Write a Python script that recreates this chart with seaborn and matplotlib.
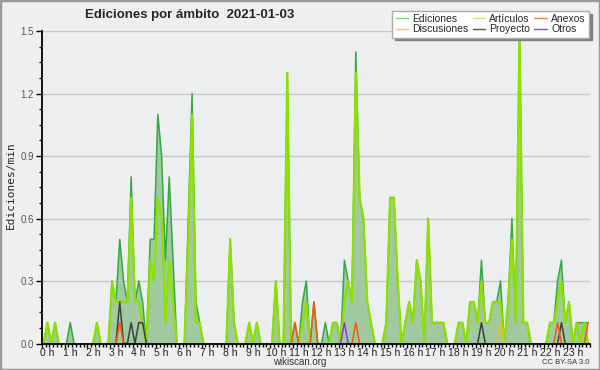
import numpy as np
import pandas as pd
import seaborn as sns
import matplotlib
matplotlib.use('Agg')
from matplotlib import pyplot as plt
from matplotlib.lines import Line2D
from matplotlib.patches import Rectangle
from matplotlib.transforms import ScaledTranslation

# edits per minute, one value per 10-minute slot (144 slots)
ediciones = [
    0, 0.1, 0, 0.1, 0, 0, 0, 0.1, 0, 0, 0, 0,
    0, 0, 0.1, 0, 0, 0, 0.3, 0.2, 0.5, 0.3, 0.2, 0.8,
    0.2, 0.3, 0.2, 0, 0.5, 0.5, 1.1, 0.9, 0.4, 0.8, 0.4, 0,
    0, 0, 0.6, 1.2, 0.2, 0.1, 0, 0, 0, 0, 0, 0,
    0, 0.5, 0.1, 0, 0, 0, 0.1, 0, 0.1, 0, 0, 0,
    0, 0.3, 0, 0, 1.3, 0, 0.1, 0, 0.2, 0.3, 0, 0.2,
    0, 0, 0.1, 0, 0.1, 0.1, 0, 0.4, 0.3, 0.2, 1.4, 0.7,
    0.6, 0.2, 0.1, 0, 0, 0, 0.1, 0.7, 0.7, 0.3, 0, 0.1,
    0.2, 0.1, 0.4, 0.3, 0, 0.6, 0.1, 0.1, 0.1, 0.1, 0, 0,
    0, 0.1, 0.1, 0, 0.2, 0.2, 0.1, 0.4, 0.1, 0.1, 0.2, 0.2,
    0.3, 0, 0.2, 0.6, 0.1, 1.5, 0.1, 0.1, 0, 0, 0, 0,
    0, 0.1, 0.1, 0.3, 0.4, 0.1, 0.2, 0, 0.1, 0.1, 0.1, 0.1,
]
articulos = [
    0, 0.1, 0, 0.1, 0, 0, 0, 0, 0, 0, 0, 0,
    0, 0, 0.1, 0, 0, 0, 0.3, 0.2, 0.2, 0.2, 0.2, 0.7,
    0.2, 0.2, 0.1, 0, 0.4, 0.3, 0.7, 0.6, 0.1, 0.4, 0.2, 0,
    0, 0, 0.5, 1.1, 0.1, 0.1, 0, 0, 0, 0, 0, 0,
    0, 0.5, 0.1, 0, 0, 0, 0.1, 0, 0.1, 0, 0, 0,
    0, 0.3, 0, 0, 1.3, 0, 0, 0, 0.1, 0.2, 0, 0,
    0, 0, 0, 0, 0.1, 0.1, 0, 0.2, 0.3, 0.2, 1.3, 0.7,
    0.6, 0.2, 0.1, 0, 0, 0, 0.1, 0.7, 0.7, 0.3, 0, 0.1,
    0.2, 0.1, 0.4, 0.3, 0, 0.6, 0.1, 0.1, 0.1, 0.1, 0, 0,
    0, 0.1, 0.1, 0, 0.2, 0.2, 0.1, 0.3, 0.1, 0.1, 0.2, 0.2,
    0.2, 0, 0.2, 0.5, 0.1, 1.5, 0.1, 0.1, 0, 0, 0, 0,
    0, 0.1, 0.1, 0.2, 0.3, 0.1, 0.2, 0, 0.1, 0, 0.1, 0,
]
# sparse series: slot -> edits/min
anexos = {20: 0.1, 66: 0.1, 71: 0.2, 82: 0.1, 135: 0.1, 143: 0.1}
discusiones = {120: 0.1}
proyecto = {20: 0.2, 23: 0.1, 25: 0.1, 26: 0.1, 115: 0.1, 136: 0.1}
otros = {79: 0.1}

hour_labels = ['{} h'.format(h) for h in range(24)]
y_ticks = [0.0, 0.3, 0.6, 0.9, 1.2, 1.5]


def dense(sparse, n):
    out = np.zeros(n)
    for k, v in sparse.items():
        out[k] = v
    return out


def hide_flat_zeros(values):
    # drop points that sit on the baseline between two other zeros
    v = np.asarray(values, dtype=float)
    padded = np.concatenate([[0], v, [0]])
    flat = (v == 0) & (padded[:-2] == 0) & (padded[2:] == 0)
    v = v.copy()
    v[flat] = np.nan
    return v


def segments(df, col):
    # split a series at its gaps so seaborn does not join across them
    v = hide_flat_zeros(df[col])
    seg = np.cumsum(np.isnan(v))
    part = pd.DataFrame({'hora': df['hora'], 'valor': v, 'seg': seg})
    return part.dropna()


n = len(ediciones)
df = pd.DataFrame({
    'hora': (np.arange(n) + 0.5) / 6,
    'Ediciones': ediciones,
    'Artículos': articulos,
    'Anexos': dense(anexos, n),
    'Discusiones': dense(discusiones, n),
    'Proyecto': dense(proyecto, n),
    'Otros': dense(otros, n),
})

sns.set_style('white')
plt.rcParams['font.family'] = ['Liberation Sans Narrow', 'Liberation Sans', 'DejaVu Sans']

fig = plt.figure(figsize=(6, 3.7), dpi=100, facecolor='#efeff0')
ax = fig.add_axes([0.0695, 0.0716, 0.9138, 0.8446])
ax.set_facecolor('#edeef0')

ax.fill_between(df['hora'], hide_flat_zeros(df['Ediciones']), color='#a0c9a0', lw=0, zorder=1.5)
styles = [
    ('Ediciones', '#35a843', 1.1),
    ('Artículos', '#8ee000', 1.6),
    ('Discusiones', '#e8c020', 1.1),
    ('Proyecto', '#404040', 1.1),
    ('Anexos', '#ee5a14', 1.1),
    ('Otros', '#9a30e8', 1.1),
]
for col, color, lw in styles:
    sns.lineplot(data=segments(df, col), x='hora', y='valor', units='seg', estimator=None,
                 color=color, lw=lw, ax=ax, legend=False)

ax.set_xlim(0, 24)
ax.set_ylim(0, 1.5)
ax.set_xlabel('')
ax.set_ylabel('')
ax.set_xticks(range(24))
ax.set_xticklabels(hour_labels)
ax.set_xticks(np.arange(0, 24.01, 1 / 6), minor=True)
ax.set_yticks(y_ticks)
ax.set_yticklabels(['{:.1f}'.format(v) for v in y_ticks])
ax.set_yticks(np.arange(0, 1.501, 0.075), minor=True)
ax.yaxis.grid(True, color='#c8c8c8', lw=1)
ax.set_axisbelow(True)

for side in ['top', 'right']:
    ax.spines[side].set_visible(False)
for side in ['left', 'bottom']:
    ax.spines[side].set_color('black')
    ax.spines[side].set_linewidth(1.3)
    ax.spines[side].set_zorder(5)

ax.tick_params(axis='x', which='major', length=3, width=1, color='black', labelsize=7.5, pad=0, labelcolor='#222222')
ax.tick_params(axis='x', which='minor', length=2, width=1, color='black')
ax.tick_params(axis='y', which='major', length=4.5, width=1, color='black', labelsize=7, pad=1, labelcolor='#555555')
ax.tick_params(axis='y', which='minor', length=2.5, width=1, color='black')
ax.tick_params(bottom=True, left=True, which='both')
shift = ScaledTranslation(4 / 72, 0, fig.dpi_scale_trans)
for lab in ax.get_xticklabels():
    lab.set_transform(lab.get_transform() + shift)

handles = [
    Line2D([], [], color='#80d080', lw=1),
    Line2D([], [], color='#f0d050', lw=1),
    Line2D([], [], color='#c8ee60', lw=1),
    Line2D([], [], color='#555555', lw=1),
    Line2D([], [], color='#f08048', lw=1),
    Line2D([], [], color='#9040f0', lw=1),
]
labels = ['Ediciones', 'Discusiones', 'Artículos', 'Proyecto', 'Anexos', 'Otros']
fig.legend(handles, labels, ncol=3, loc='upper right', bbox_to_anchor=(0.99, 0.985),
           fontsize=7.5, frameon=True, fancybox=False, edgecolor='#aaaaaa',
           shadow={'color': '#808080', 'alpha': 1}, borderpad=0.3,
           handlelength=1.2, handletextpad=0.4, columnspacing=0.4, labelspacing=0.05,
           framealpha=1)

fig.text(85 / 600, 1 - 15 / 370, 'Ediciones por ámbito  2021-01-03', fontsize=9.5,
         fontweight='bold', ha='left', va='center')
fig.text(0.018, 0.5, 'Ediciones/min', rotation=90, family='DejaVu Sans Mono',
         fontsize=8, ha='center', va='center')
fig.text(0.5, 1 - 362 / 370, 'wikiscan.org', fontsize=7, ha='center', va='center', color='#333333')
fig.text(0.982, 1 - 363 / 370, 'CC BY-SA 3.0', fontsize=5.5, ha='right', va='center', color='#333333')

fig.patches.append(Rectangle((0, 0), 1, 1, transform=fig.transFigure, fill=False,
                             edgecolor='#9a9a9a', lw=2.5))

fig.savefig('out.png', dpi=100, facecolor=fig.get_facecolor())
